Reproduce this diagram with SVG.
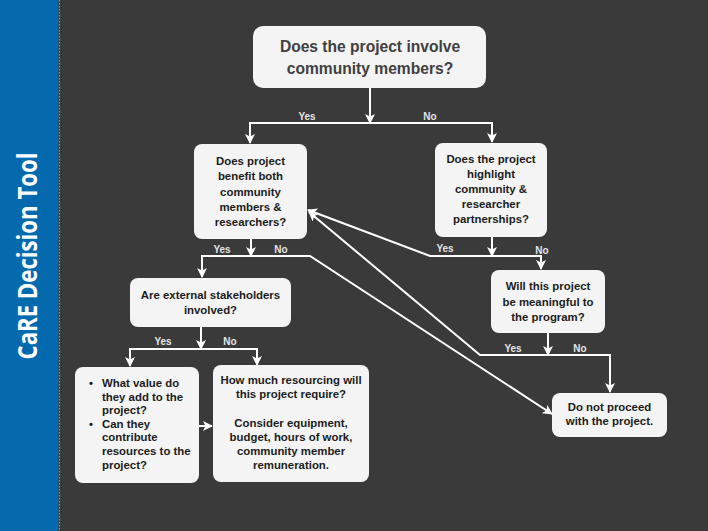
<svg xmlns="http://www.w3.org/2000/svg" width="708" height="531" viewBox="0 0 708 531">
<style>
.box{fill:#f4f4f4;}
.t{font-family:"Liberation Sans",Arial,sans-serif;font-weight:bold;font-size:11.4px;fill:#1c1c1c;text-anchor:middle;}
.tl{font-family:"Liberation Sans",Arial,sans-serif;font-weight:bold;font-size:11.4px;fill:#1c1c1c;}
.big{font-family:"Liberation Sans",Arial,sans-serif;font-weight:bold;font-size:15.6px;fill:#404040;text-anchor:middle;}
.lbl{font-family:"Liberation Sans",Arial,sans-serif;font-weight:bold;font-size:10px;fill:#e4e4e4;text-anchor:middle;}
.c{fill:none;stroke:#ffffff;stroke-width:2;marker-end:url(#ah);}
</style>
<defs>
<marker id="ah" markerUnits="userSpaceOnUse" markerWidth="10" markerHeight="10" viewBox="0 0 10 10" refX="9" refY="5" orient="auto">
<path d="M0,0 L10,5 L0,10 L2.5,5 z" fill="#ffffff"/>
</marker>
</defs>
<rect x="0" y="0" width="708" height="531" fill="#3a3a3a"/>
<rect x="0" y="0" width="58.5" height="531" fill="#0569ae"/>
<line x1="59.5" y1="0" x2="59.5" y2="531" stroke="#9a9a9a" stroke-width="1" stroke-dasharray="1.5,1.5"/>
<text transform="translate(37,256) rotate(-90)" font-family="'Open Sans','Liberation Sans',sans-serif" font-weight="bold" font-size="26" fill="#ffffff" text-anchor="middle" textLength="207" lengthAdjust="spacingAndGlyphs">CaRE Decision Tool</text>

<g id="connectors">
<path class="c" d="M370,88 V123"/>
<path class="c" d="M370,123 H250 V143"/>
<path class="c" d="M370,123 H492 V142"/>
<path class="c" d="M251,239 V256"/>
<path class="c" d="M251,256 H202 V277"/>
<path class="c" d="M251,256 H310 L552,414"/>
<path class="c" d="M492,237 V256"/>
<path class="c" d="M492,256 H541 V269"/>
<path class="c" d="M492,256 H430 L308,210"/>
<path class="c" d="M201,327 V349"/>
<path class="c" d="M201,349 H130 V366"/>
<path class="c" d="M201,349 H257 V365"/>
<path class="c" d="M199,426 H212"/>
<path class="c" d="M548,333 V355"/>
<path class="c" d="M548,355 H610 V392"/>
<path class="c" d="M548,355 H480 L309,212"/>
<text class="lbl" x="307" y="119.5">Yes</text>
<text class="lbl" x="430" y="119.5">No</text>
<text class="lbl" x="222" y="252.5">Yes</text>
<text class="lbl" x="281" y="252.5">No</text>
<text class="lbl" x="445" y="251.5">Yes</text>
<text class="lbl" x="542" y="253.5">No</text>
<text class="lbl" x="163" y="344.5">Yes</text>
<text class="lbl" x="230" y="344.5">No</text>
<text class="lbl" x="513" y="351.5">Yes</text>
<text class="lbl" x="580" y="351.5">No</text>
</g>

<g id="n-involve">
<rect class="box" x="253" y="26" width="233" height="62" rx="10"/>
<text class="big" x="370" y="52">Does the project involve</text>
<text class="big" x="370" y="73.5">community members?</text>
</g>

<g id="n-benefit">
<rect class="box" x="194" y="144" width="113" height="95" rx="8"/>
<text class="t" x="250.5" y="165">Does project</text>
<text class="t" x="250.5" y="180.3">benefit both</text>
<text class="t" x="250.5" y="195.6">community</text>
<text class="t" x="250.5" y="210.9">members &amp;</text>
<text class="t" x="250.5" y="226.2">researchers?</text>
</g>

<g id="n-highlight">
<rect class="box" x="435" y="143" width="112" height="94" rx="8"/>
<text class="t" x="491" y="163">Does the project</text>
<text class="t" x="491" y="178.1">highlight</text>
<text class="t" x="491" y="193.2">community &amp;</text>
<text class="t" x="491" y="208.3">researcher</text>
<text class="t" x="491" y="223.4">partnerships?</text>
</g>

<g id="n-stakeholders">
<rect class="box" x="130" y="278" width="161" height="49" rx="8"/>
<text class="t" x="210.5" y="299">Are external stakeholders</text>
<text class="t" x="210.5" y="314">involved?</text>
</g>

<g id="n-meaningful">
<rect class="box" x="491" y="270" width="114" height="63" rx="8"/>
<text class="t" x="548" y="290">Will this project</text>
<text class="t" x="548" y="305.5">be meaningful to</text>
<text class="t" x="548" y="321">the program?</text>
</g>

<g id="n-value">
<rect class="box" x="75" y="367" width="124" height="116" rx="8"/>
<text class="tl" x="89" y="387">•</text>
<text class="tl" x="102" y="387">What value do</text>
<text class="tl" x="102" y="400.6">they add to the</text>
<text class="tl" x="102" y="414.2">project?</text>
<text class="tl" x="89" y="427.8">•</text>
<text class="tl" x="102" y="427.8">Can they</text>
<text class="tl" x="102" y="441.4">contribute</text>
<text class="tl" x="102" y="455">resources to the</text>
<text class="tl" x="102" y="468.6">project?</text>
</g>

<g id="n-resourcing">
<rect class="box" x="213" y="365" width="156" height="117" rx="8"/>
<text class="t" x="291" y="384">How much resourcing will</text>
<text class="t" x="291" y="398">this project require?</text>
<text class="t" x="291" y="427">Consider equipment,</text>
<text class="t" x="291" y="441">budget, hours of work,</text>
<text class="t" x="291" y="455">community member</text>
<text class="t" x="291" y="468.5">remuneration.</text>
</g>

<g id="n-stop">
<rect class="box" x="552" y="393" width="115" height="44" rx="8"/>
<text class="t" x="609.5" y="411">Do not proceed</text>
<text class="t" x="609.5" y="425">with the project.</text>
</g>
</svg>
